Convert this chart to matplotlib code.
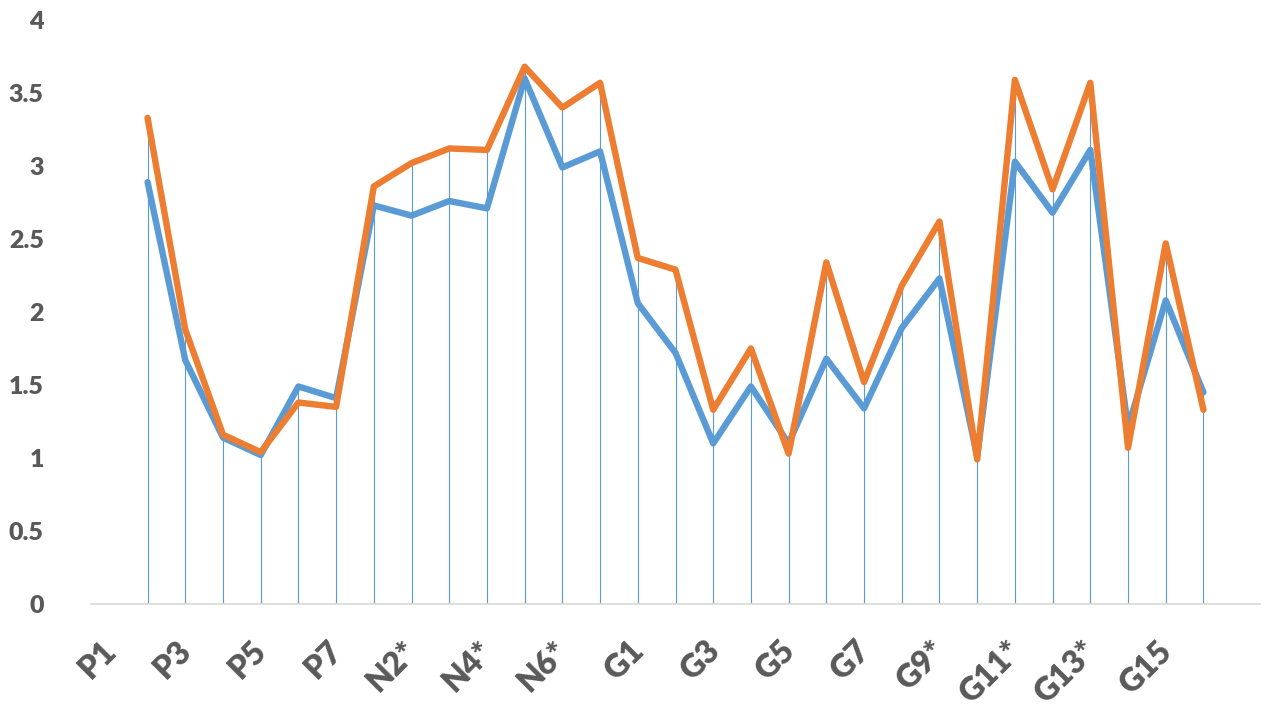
import matplotlib
matplotlib.use("Agg")
import matplotlib.pyplot as plt
import matplotlib.transforms as mtransforms
import numpy as np

categories = ["P1", "P2", "P3", "P4", "P5", "P6", "P7",
              "N1*", "N2*", "N3*", "N4*", "N5*", "N6*", "N7*",
              "G1", "G2", "G3", "G4", "G5", "G6", "G7", "G8",
              "G9*", "G10*", "G11*", "G12*", "G13*", "G14*", "G15"]

series_blue = [2.89, 1.67, 1.14, 1.02, 1.49, 1.41, 2.73,
               2.66, 2.76, 2.71, 3.60, 2.99, 3.10, 2.06,
               1.72, 1.10, 1.49, 1.10, 1.68, 1.34, 1.89, 2.23,
               1.01, 3.03, 2.68, 3.11, 1.21, 2.08, 1.45]

series_orange = [3.33, 1.88, 1.16, 1.04, 1.38, 1.35, 2.86,
                 3.02, 3.12, 3.11, 3.68, 3.40, 3.57, 2.37,
                 2.29, 1.33, 1.75, 1.03, 2.34, 1.52, 2.18, 2.62,
                 0.99, 3.59, 2.84, 3.57, 1.07, 2.47, 1.33]

y_ticks = [0, 0.5, 1, 1.5, 2, 2.5, 3, 3.5, 4]
y_tick_labels = ["0", "0.5", "1", "1.5", "2", "2.5", "3", "3.5", "4"]

BLUE = "#5B9BD5"
ORANGE = "#ED7D31"
GREY = "#595959"

plt.rcParams['font.family'] = ['Lato', 'DejaVu Sans']

fig = plt.figure(figsize=(12.8, 7.2), dpi=100)
ax = fig.add_axes([91/1280, 1 - 604/720, (1260 - 91)/1280, (604 - 20)/720])

n = len(categories)
x_data = np.arange(n) + 1
blue = np.array(series_blue)
orange = np.array(series_orange)

ax.vlines(x_data, 0, np.maximum(blue, orange), color=BLUE, lw=0.8, zorder=1)
ax.plot(x_data, blue, color=BLUE, lw=4.6, solid_joinstyle='round',
        solid_capstyle='round', zorder=2)
ax.plot(x_data, orange, color=ORANGE, lw=4.6, solid_joinstyle='round',
        solid_capstyle='round', zorder=3)

ax.set_xlim(-0.5, n + 1.5)
ax.set_ylim(0, 4)

label_pos = np.arange(0, n, 2)
ax.set_xticks(label_pos)
ax.set_xticklabels([categories[i] for i in label_pos], rotation=45,
                   ha='right', va='top', rotation_mode='anchor',
                   fontsize=23, fontweight='heavy', color=GREY)
ax.set_yticks(y_ticks)
ax.set_yticklabels(y_tick_labels, fontsize=18, fontweight='heavy', color=GREY)
ax.tick_params(axis='x', length=0, pad=23)
ax.tick_params(axis='y', length=0, pad=34)

offset = mtransforms.ScaledTranslation(-9/100, 0, fig.dpi_scale_trans)
for lbl in ax.get_xticklabels():
    lbl.set_transform(lbl.get_transform() + offset)

for s in ['top', 'right', 'left']:
    ax.spines[s].set_visible(False)
ax.spines['bottom'].set_color('#D9D9D9')
ax.spines['bottom'].set_linewidth(1.2)

fig.savefig("out.png", dpi=100)
